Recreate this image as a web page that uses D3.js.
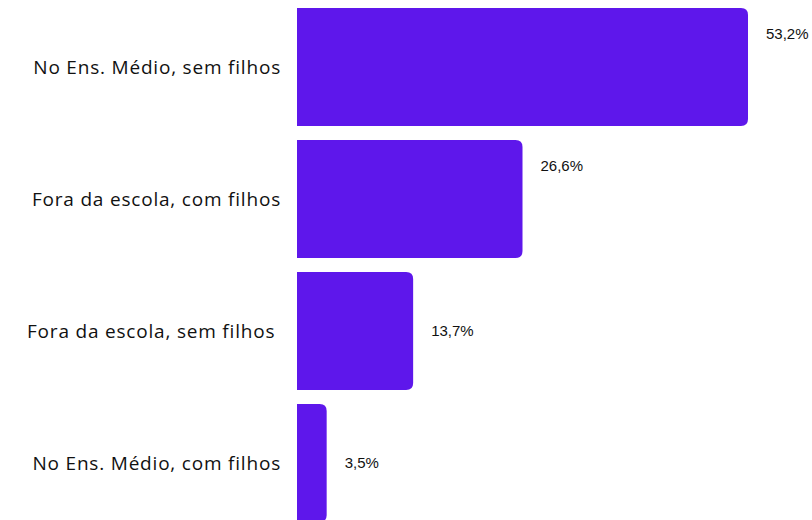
<!DOCTYPE html>
<html>
<head>
<meta charset="utf-8">
<script src="https://cdn.jsdelivr.net/npm/d3@7"></script>
<style>
  html, body { margin: 0; padding: 0; background: #ffffff; }
  svg { display: block; }
</style>
</head>
<body>
<svg id="chart" width="812" height="520"></svg>
<script>
// Share of young women by schooling / motherhood situation
const categories = [
  "No Ens. Médio, sem filhos",
  "Fora da escola, com filhos",
  "Fora da escola, sem filhos ",
  "No Ens. Médio, com filhos"
];
const values = [53.2, 26.6, 13.7, 3.5];
const valueLabels = ["53,2%", "26,6%", "13,7%", "3,5%"];
// vertical placement of each value label within its bar: "top" or "middle"
const labelAnchors = ["top", "top", "middle", "middle"];

const svg = d3.select("#chart");
const barColor = "#5e17eb";

const x = d3.scaleLinear().domain([0, 53.2]).range([297, 748]);
const y = d3.scaleBand().domain(categories).range([8, 522]).paddingInner(0.106).paddingOuter(0);

const r = 7;
function barPath(x0, x1, y0, h) {
  const rr = Math.min(r, (x1 - x0), h / 2);
  return `M${x0},${y0}H${x1 - rr}Q${x1},${y0} ${x1},${y0 + rr}V${y0 + h - rr}Q${x1},${y0 + h} ${x1 - rr},${y0 + h}H${x0}Z`;
}

const rows = categories.map((c, i) => ({ c, v: values[i], lbl: valueLabels[i], anchor: labelAnchors[i] }));

svg.selectAll("path.bar")
  .data(rows)
  .join("path")
  .attr("class", "bar")
  .attr("fill", barColor)
  .attr("d", d => barPath(x(0), x(d.v), y(d.c), y.bandwidth()));

// category labels, right-aligned left of the bars
svg.selectAll("text.cat")
  .data(rows)
  .join("text")
  .attr("class", "cat")
  .attr("x", 281)
  .attr("y", d => y(d.c) + y.bandwidth() / 2)
  .attr("dy", "0.35em")
  .attr("text-anchor", "end")
  .attr("font-family", "'Open Sans', Lato, sans-serif")
  .attr("font-size", 19)
  .attr("letter-spacing", 0.8)
  .attr("fill", "#111")
  .style("white-space", "pre")
  .text(d => d.c);

// value labels
svg.selectAll("text.val")
  .data(rows)
  .join("text")
  .attr("class", "val")
  .attr("x", d => x(d.v) + 18)
  .attr("y", d => d.anchor === "top" ? y(d.c) + 26 : y(d.c) + y.bandwidth() / 2)
  .attr("dy", "0.35em")
  .attr("font-family", "'Liberation Sans', Arial, sans-serif")
  .attr("font-size", 15)
  .attr("fill", "#111")
  .text(d => d.lbl);
</script>
</body>
</html>
